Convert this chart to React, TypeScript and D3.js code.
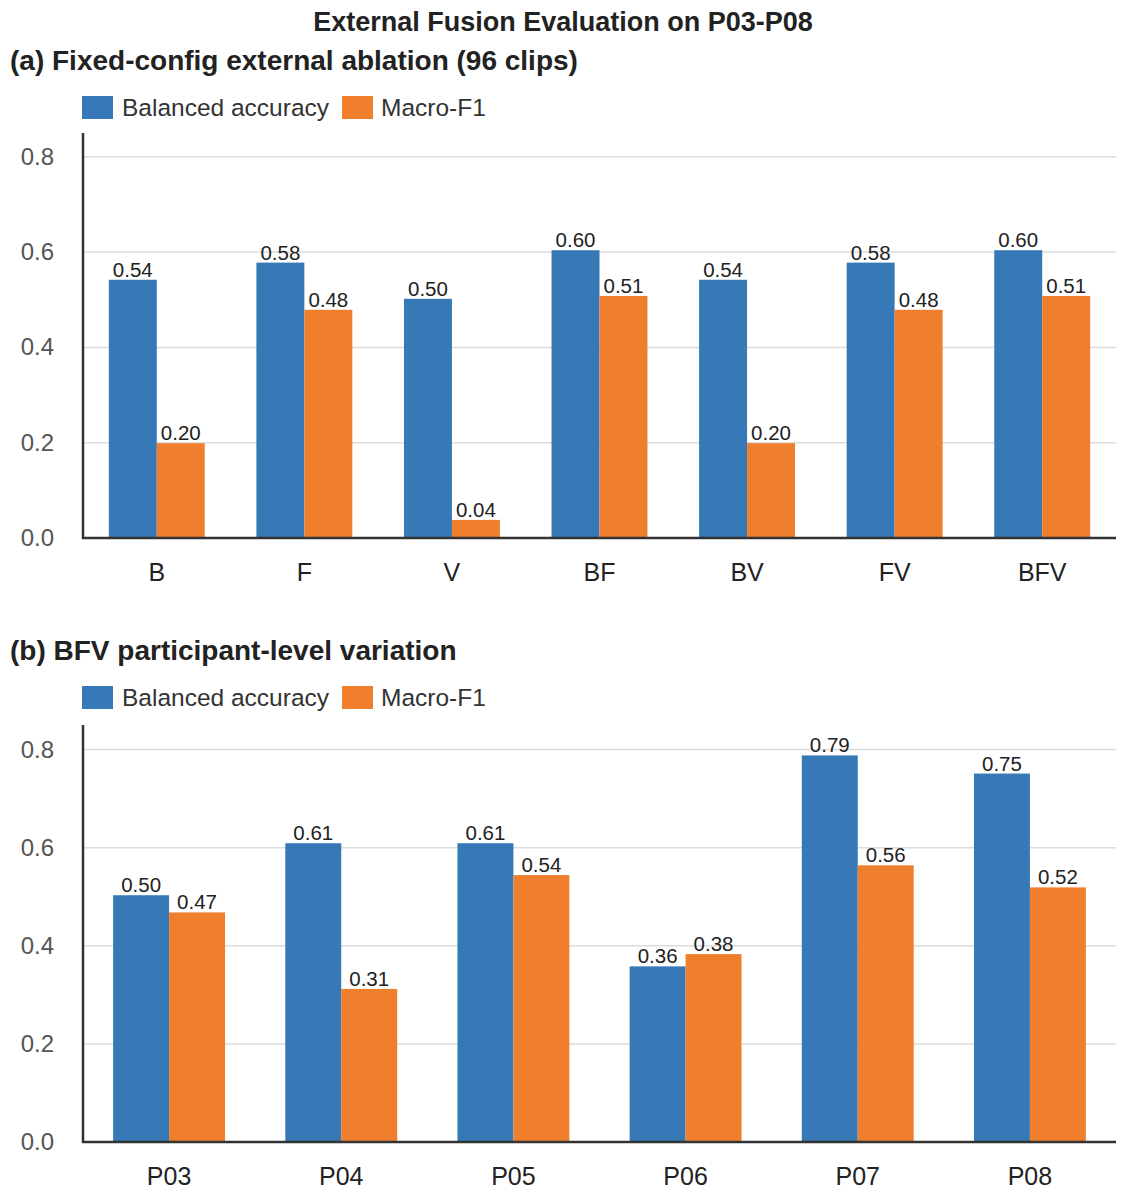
import React, { useEffect } from 'react'
import * as d3 from 'd3'

const ablationConfigs = ['B', 'F', 'V', 'BF', 'BV', 'FV', 'BFV']
const ablationBalAcc = [0.542, 0.578, 0.502, 0.604, 0.542, 0.578, 0.604]
const ablationMacroF1 = [0.199, 0.479, 0.038, 0.508, 0.199, 0.479, 0.508]

const participants = ['P03', 'P04', 'P05', 'P06', 'P07', 'P08']
const participantBalAcc = [0.503, 0.609, 0.609, 0.358, 0.788, 0.751]
const participantMacroF1 = [0.468, 0.312, 0.544, 0.383, 0.564, 0.519]

const seriesNames = ['Balanced accuracy', 'Macro-F1']
const yTicks = [0, 0.2, 0.4, 0.6, 0.8]

const BLUE = '#3679b6'
const ORANGE = '#f07f2d'
const FONT = '"Liberation Sans", Arial, Helvetica, sans-serif'

const W = 1127
const H = 1195

type PanelProps = {
    title: string
    cats: string[]
    a: number[]
    b: number[]
    titleY: number
    legendY: number
    top: number
    bottom: number
}

const Panel = ({ title, cats, a, b, titleY, legendY, top, bottom }: PanelProps) => {
    const left = 83
    const right = 1116
    const x = d3.scaleBand().domain(cats).range([left, right]).paddingInner(0.35).paddingOuter(0.175)
    const y = d3.scaleLinear().domain([0, 0.85]).range([bottom, top])
    const half = x.bandwidth() / 2
    const series = [
        { vals: a, color: BLUE, off: 0 },
        { vals: b, color: ORANGE, off: half }
    ]
    return (
        <g>
            <text x={10} y={titleY} fontSize={28} fontWeight="bold" fill="#222">
                {title}
            </text>
            {/* legend */}
            <g>
                <rect x={82} y={legendY - 12} width={31} height={23} fill={BLUE} />
                <text x={122} y={legendY + 8} fontSize={24.5} fill="#333">
                    {seriesNames[0]}
                </text>
                <rect x={342} y={legendY - 12} width={31} height={23} fill={ORANGE} />
                <text x={381} y={legendY + 8} fontSize={24.5} fill="#333">
                    {seriesNames[1]}
                </text>
            </g>
            {/* grid + y ticks */}
            {yTicks.map(t => (
                <g key={t}>
                    {t > 0 && <line x1={left} x2={right} y1={y(t)} y2={y(t)} stroke="#dcdcdc" strokeWidth={1.5} />}
                    <text x={54} y={y(t) + 8} fontSize={24} fill="#555" textAnchor="end">
                        {t.toFixed(1)}
                    </text>
                </g>
            ))}
            {/* bars */}
            {series.map((s, si) =>
                cats.map((c, i) => (
                    <g key={si + c}>
                        <rect
                            x={(x(c) as number) + s.off}
                            y={y(s.vals[i])}
                            width={half}
                            height={bottom - y(s.vals[i])}
                            fill={s.color}
                        />
                        <text
                            x={(x(c) as number) + s.off + half / 2}
                            y={y(s.vals[i]) - 3}
                            fontSize={20.5}
                            fill="#222"
                            textAnchor="middle"
                        >
                            {s.vals[i].toFixed(2)}
                        </text>
                    </g>
                ))
            )}
            {/* axes */}
            <line x1={left} x2={left} y1={top} y2={bottom + 1} stroke="#333" strokeWidth={2.5} />
            <line x1={left - 1} x2={right} y1={bottom} y2={bottom} stroke="#333" strokeWidth={2.5} />
            {cats.map(c => (
                <text
                    key={c}
                    x={(x(c) as number) + half}
                    y={bottom + 43}
                    fontSize={25}
                    fill="#222"
                    textAnchor="middle"
                >
                    {c}
                </text>
            ))}
        </g>
    )
}

const App = () => {
    useEffect(() => {
        document.body.style.margin = '0'
    }, [])
    return (
        <svg width={W} height={H} style={{ display: 'block', fontFamily: FONT }}>
            <rect width={W} height={H} fill="#fff" />
            <text x={563} y={31} fontSize={27} fontWeight="bold" fill="#222" textAnchor="middle">
                External Fusion Evaluation on P03-P08
            </text>
            <Panel
                title="(a) Fixed-config external ablation (96 clips)"
                cats={ablationConfigs}
                a={ablationBalAcc}
                b={ablationMacroF1}
                titleY={70}
                legendY={108}
                top={133}
                bottom={538}
            />
            <Panel
                title="(b) BFV participant-level variation"
                cats={participants}
                a={participantBalAcc}
                b={participantMacroF1}
                titleY={660}
                legendY={698}
                top={725}
                bottom={1142}
            />
        </svg>
    )
}

export default App
